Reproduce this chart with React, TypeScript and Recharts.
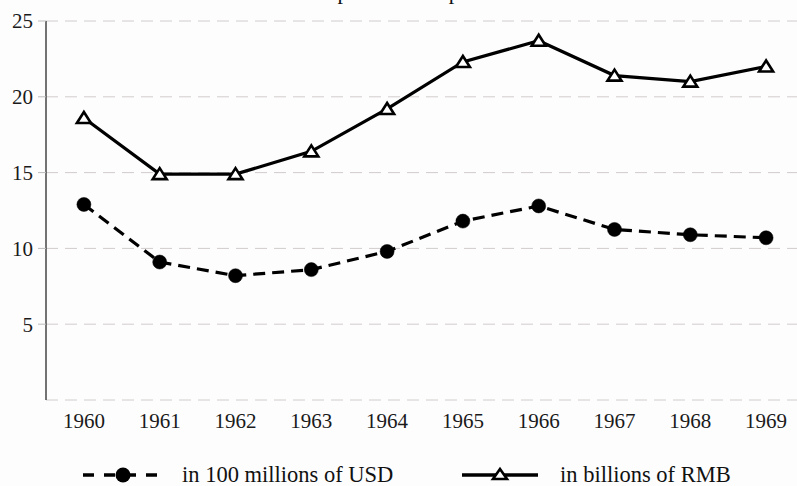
import { LineChart, Line, XAxis, YAxis, CartesianGrid, Legend } from "recharts";

// years on the x axis
const years = [1960, 1961, 1962, 1963, 1964, 1965, 1966, 1967, 1968, 1969];
// trade values
const usd = [12.9, 9.1, 8.2, 8.6, 9.8, 11.8, 12.8, 11.25, 10.9, 10.7];
const rmb = [18.6, 14.9, 14.9, 16.4, 19.2, 22.3, 23.7, 21.4, 21.0, 22.0];
const yTicks = [5, 10, 15, 20, 25];
const usdLabel = "in 100 millions of USD";
const rmbLabel = "in billions of RMB";
const title = "Exports and Imports";

const data = years.map((year, i) => ({ year, usd: usd[i], rmb: rmb[i] }));
// tick marks sit between the years
const boundaryTicks = years.slice(0, -1).map((y) => y + 0.5);

const FONT = "'Liberation Serif', 'Times New Roman', serif";

const TriangleDot = (props: any) => {
  const { cx, cy } = props;
  if (cx == null || cy == null) return null;
  return (
    <polygon
      points={`${cx},${cy - 6} ${cx - 7},${cy + 5} ${cx + 7},${cy + 5}`}
      fill="#fff"
      stroke="#000"
      strokeWidth={2.6}
      strokeLinejoin="miter"
    />
  );
};

const renderLegend = (props: any) => {
  const items = props.payload || [];
  return (
    <div style={{ position: "relative", width: 797, height: 46, fontFamily: FONT }}>
      {items.map((item: any) => {
        const isUsd = item.dataKey === "usd";
        const left = isUsd ? 83 : 462;
        return (
          <div
            key={item.dataKey}
            style={{ position: "absolute", left, top: 24, display: "flex", alignItems: "center", height: 22 }}
          >
            <svg width={78} height={22} style={{ display: "block" }}>
              {isUsd ? (
                <>
                  <line x1={0} y1={11} x2={78} y2={11} stroke="#000" strokeWidth={3.5} strokeDasharray="11 10" />
                  <circle cx={40} cy={11} r={7.5} fill="#000" />
                </>
              ) : (
                <>
                  <line x1={0} y1={11} x2={76} y2={11} stroke="#000" strokeWidth={3.5} />
                  <polygon points="38,5 31,15 45,15" fill="#fff" stroke="#000" strokeWidth={2.6} />
                </>
              )}
            </svg>
            <span style={{ marginLeft: isUsd ? 21 : 20, fontSize: 22.5, color: "#111", whiteSpace: "nowrap" }}>
              {item.value}
            </span>
          </div>
        );
      })}
    </div>
  );
};

export default function App() {
  return (
    <div
      style={{
        position: "absolute",
        left: 0,
        top: 0,
        width: 797,
        height: 486,
        overflow: "hidden",
        background: "#fdfdfe",
        fontFamily: FONT,
      }}
    >
      {/* title is cut off at the top edge, only descenders show */}
      <svg width={797} height={10} style={{ position: "absolute", left: 0, top: 0 }}>
        <text x={403} y={-1} textAnchor="middle" fontSize={22} fontFamily={FONT} fill="#111">
          {title}
        </text>
      </svg>
      <LineChart
        width={820}
        height={486}
        data={data}
        margin={{ top: 21, right: 16, left: 0, bottom: 0 }}
      >
        <CartesianGrid
          horizontal
          vertical={false}
          stroke="#d2cccc"
          strokeDasharray="12 7"
        />
        <XAxis
          xAxisId="bounds"
          dataKey="year"
          type="number"
          domain={[1959.5, 1969.5]}
          allowDataOverflow
          ticks={boundaryTicks}
          interval={0}
          tick={false}
          tickSize={7}
          tickLine={{ stroke: "#333", strokeWidth: 1.5 }}
          axisLine={{ stroke: "#444", strokeWidth: 1.5 }}
          height={0}
        />
        <XAxis
          xAxisId="years"
          dataKey="year"
          type="number"
          domain={[1959.5, 1969.5]}
          allowDataOverflow
          ticks={years}
          interval={0}
          tickLine={false}
          axisLine={false}
          tickSize={0}
          tickMargin={13}
          tick={{ fontSize: 21, fill: "#1a1a1a", fontFamily: FONT }}
          height={40}
        />
        <YAxis
          domain={[0, 25]}
          ticks={yTicks}
          interval={0}
          width={46}
          tickSize={8}
          tickMargin={5}
          tickLine={{ stroke: "#bbb" }}
          axisLine={{ stroke: "#444", strokeWidth: 1.5 }}
          tick={{ fontSize: 21, fill: "#1a1a1a", fontFamily: FONT }}
        />
        <Legend
          content={renderLegend}
          verticalAlign="bottom"
          height={46}
          wrapperStyle={{ left: 0, top: 440, width: 797, height: 46 }}
        />
        <Line
          xAxisId="years"
          dataKey="usd"
          name={usdLabel}
          stroke="#000"
          strokeWidth={3.2}
          strokeDasharray="12 7"
          dot={{ r: 7, fill: "#000", stroke: "#000", strokeWidth: 0.5, strokeDasharray: "" }}
          activeDot={false}
          isAnimationActive={false}
        />
        <Line
          xAxisId="years"
          dataKey="rmb"
          name={rmbLabel}
          stroke="#000"
          strokeWidth={3.2}
          dot={<TriangleDot />}
          activeDot={false}
          isAnimationActive={false}
        />
      </LineChart>
    </div>
  );
}
